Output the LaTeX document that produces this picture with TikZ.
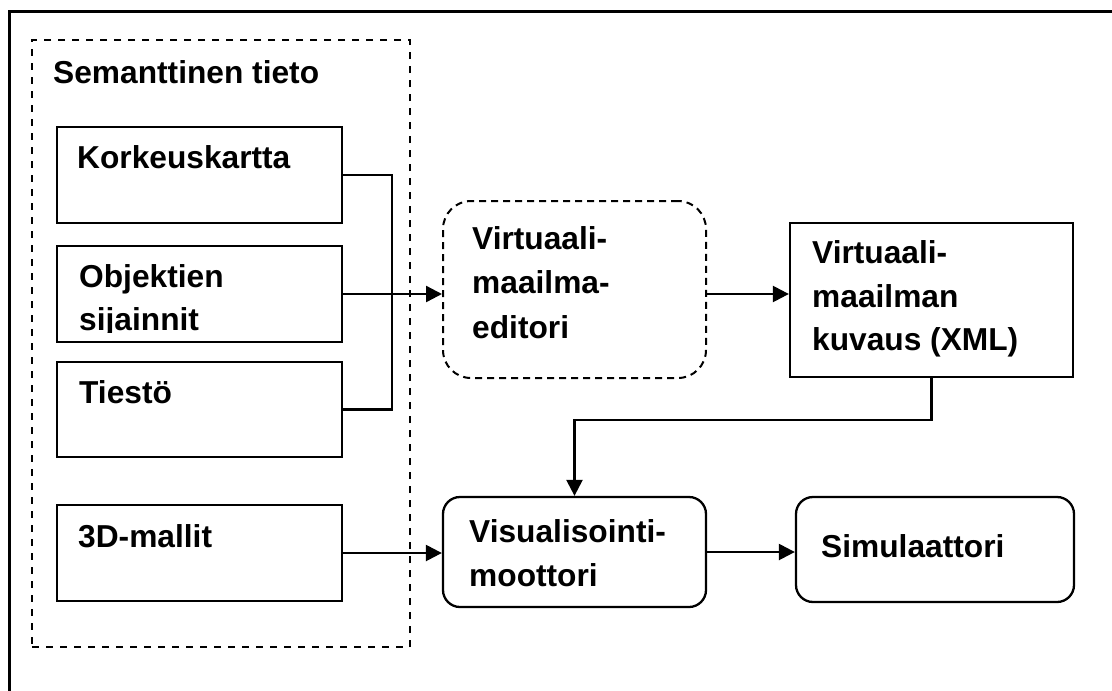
\documentclass[tikz,border=0pt]{standalone}
\usepackage{fontspec}
\setmainfont{Liberation Sans}
\usetikzlibrary{arrows.meta}

\tikzset{
  lbl/.style={anchor=base west, inner sep=0pt, font=\fontsize{31.7}{38}\selectfont\bfseries},
  srcbox/.style={draw, line width=2.3pt, rectangle, inner sep=0pt},
  roundbox/.style={draw, line width=2.3pt, rectangle, rounded corners=17pt, inner sep=0pt},
  dashround/.style={draw, line width=2pt, dash pattern=on 7pt off 5pt, rounded corners=28pt, inner sep=0pt},
  group/.style={draw, line width=2pt, dash pattern=on 7pt off 7pt, inner sep=0pt},
  conn/.style={line width=2.4pt},
  arr/.style={conn, -{Triangle[length=16pt, width=16pt]}},
}

\newcommand{\boxat}[6]{% style, name, x1, y1, x2, y2
  \node[#1, minimum width={#5-#3}, minimum height={#6-#4}] (#2) at ({(#3+#5)/2},{(#4+#6)/2}) {};}

\begin{document}
\begin{tikzpicture}[x=1pt, y=-1pt]
  \useasboundingbox (0,0) rectangle (1112,691);

  % outer frame, running off the right and bottom edges
  \begin{scope}
    \clip (0,0) rectangle (1112,691);
    \draw[line width=2.3pt] (9.5,700) -- (9.5,11.5) -- (1130,11.5);
  \end{scope}

  % semantic information group
  \boxat{group}{sem}{32}{40}{410}{647}
  \node[lbl] (semt) at (53,83) {Semanttinen tieto};

  % source boxes
  \boxat{srcbox}{kork}{57}{127}{342}{223}
  \boxat{srcbox}{obj}{57}{246}{342}{342}
  \boxat{srcbox}{tie}{57}{362}{342}{457}
  \boxat{srcbox}{mal}{57}{505}{342}{601}

  \node[lbl] (korkt) at (77,168) {Korkeuskartta};
  \node[lbl] (objt1) at (79,287) {Objektien};
  \begin{scope}
    \clip (58,300) rectangle (341,332);
    \node[lbl] (objt2) at (79,330) {sijainnit};
  \end{scope}
  \node[lbl] (tiet) at (79,403) {Tiestö};
  \node[lbl] (malt) at (78,547) {3D-mallit};

  % editor, description, engine, simulator
  \boxat{dashround}{edit}{443}{201}{706}{378}
  \node[lbl] (edt1) at (472,249) {Virtuaali-};
  \node[lbl] (edt2) at (472,293) {maailma-};
  \node[lbl] (edt3) at (472,338) {editori};

  \boxat{srcbox}{xml}{790}{223}{1073}{377}
  \node[lbl] (xmlt1) at (812,263) {Virtuaali-};
  \node[lbl] (xmlt2) at (812,307) {maailman};
  \node[lbl] (xmlt3) at (812,350) {kuvaus (XML)};

  \boxat{roundbox}{vis}{443}{497}{706}{607}
  \node[lbl] (vist1) at (469,542) {Visualisointi-};
  \node[lbl] (vist2) at (469,586) {moottori};

  \boxat{roundbox}{sim}{796}{497}{1074}{602}
  \node[lbl] (simt) at (821,557) {Simulaattori};

  % connectors
  \coordinate (jn) at (392,294);
  \draw[conn] (kork.east) -- (kork.east -| jn) -- (tie.east -| jn) -- (tie.east);
  \draw[arr] (obj.east) -- (obj.east -| edit.west);
  \draw[arr] (edit.east |- obj.east) -- (xml.west |- obj.east);
  \draw[arr] (xml.south) -- ++(0,42) -| (vis.north);
  \draw[arr] (mal.east) -- (mal.east -| vis.west);
  \draw[arr] (vis.east) -- (vis.east -| sim.west);
\end{tikzpicture}
\end{document}
